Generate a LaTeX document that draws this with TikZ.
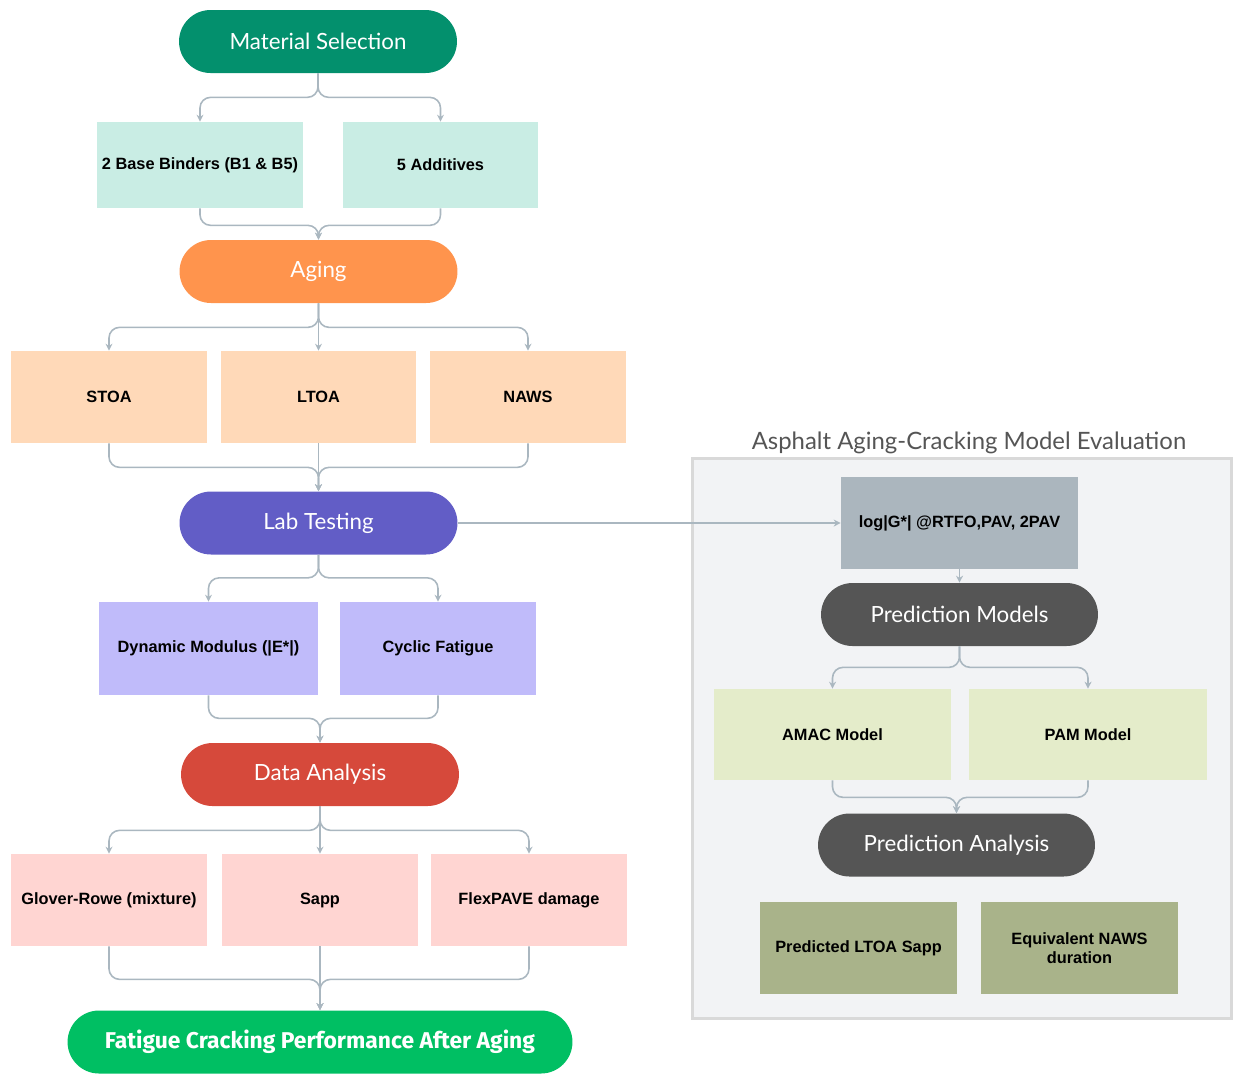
\documentclass[tikz,border=0pt]{standalone}
\usepackage{fontspec}
\setmainfont{Liberation Sans}
\newfontfamily\pillfont{Lato}
\newfontfamily\headfont{Fira Sans}
\usepackage{tikz}
\usetikzlibrary{arrows.meta,positioning,calc}

\definecolor{selgreen}{HTML}{03906D}
\definecolor{selbox}{HTML}{C9EDE4}
\definecolor{agingor}{HTML}{FF944D}
\definecolor{agingbox}{HTML}{FFD9B8}
\definecolor{labpurple}{HTML}{625DC6}
\definecolor{labbox}{HTML}{C0BBFA}
\definecolor{datared}{HTML}{D6493B}
\definecolor{databox}{HTML}{FFD5D2}
\definecolor{finalgreen}{HTML}{00BF63}
\definecolor{predgray}{HTML}{555555}
\definecolor{loggray}{HTML}{ABB6BE}
\definecolor{modelbox}{HTML}{E4ECCA}
\definecolor{resultbox}{HTML}{A9B38A}
\definecolor{panelfill}{HTML}{F2F3F5}
\definecolor{panelline}{HTML}{D9D9D9}
\definecolor{linkgray}{HTML}{AAB7C0}

\begin{document}
\begin{tikzpicture}[
    x=0.02cm, y=-0.02cm,
    % --- STYLES ---
    pill/.style={
        rectangle, rounded corners=0.63cm,
        minimum width=5.56cm, minimum height=1.26cm,
        text=white, align=center,
        font=\pillfont\fontsize{12.7}{15}\selectfont
    },
    box/.style={
        rectangle, minimum height=1.84cm,
        align=center, inner sep=2pt,
        font=\bfseries\fontsize{9.3}{11}\selectfont
    },
    panel/.style={
        rectangle, draw=panelline, fill=panelfill, line width=1.7pt,
        minimum width=10.8cm, minimum height=11.22cm
    },
    link/.style={
        -{Stealth[length=4pt,width=4pt]}, draw=linkgray,
        line width=0.9pt, rounded corners=6pt
    }
]

\useasboundingbox (0,0) rectangle (1236,1073);

% ===== 1. MAIN COLUMN =====
\node[pill, fill=selgreen] (sel) at (318,41.5) {Material Selection};

\node[box, fill=selbox, minimum width=4.14cm, minimum height=1.72cm] (binders) at (200,165) {2 Base Binders (B1 \& B5)};
\node[box, fill=selbox, minimum width=3.9cm, minimum height=1.72cm] (additives) at (440.5,165) {5 Additives};

\node[pill, fill=agingor] (aging) at (318.5,271.5) {Aging};

\node[box, fill=agingbox, minimum width=3.92cm] (stoa) at (109,397) {STOA};
\node[box, fill=agingbox, minimum width=3.9cm] (ltoa) at (318.5,397) {LTOA};
\node[box, fill=agingbox, minimum width=3.92cm] (naws) at (528,397) {NAWS};

\node[pill, fill=labpurple] (lab) at (318.5,523) {Lab Testing};

\node[box, fill=labbox, minimum width=4.38cm, minimum height=1.86cm] (dynmod) at (208.5,648.5) {Dynamic Modulus (|E*|)};
\node[box, fill=labbox, minimum width=3.92cm, minimum height=1.86cm] (fatigue) at (438,648.5) {Cyclic Fatigue};

\node[pill, fill=datared] (data) at (320,774.5) {Data Analysis};

\node[box, fill=databox, minimum width=3.92cm] (glover) at (109,900) {Glover-Rowe (mixture)};
\node[box, fill=databox, minimum width=3.92cm] (sapp) at (320,900) {Sapp};
\node[box, fill=databox, minimum width=3.92cm] (flex) at (529,900) {FlexPAVE damage};

\node[pill, fill=finalgreen, minimum width=10.1cm, font=\headfont\bfseries\fontsize{13}{15}\selectfont] (final) at (320,1042) {Fatigue Cracking Performance After Aging};

% ===== 2. MODEL PANEL =====
\node[panel] (panel) at (962,738.5) {};
\node[font=\pillfont\fontsize{13.6}{16}\selectfont, text=predgray] (ptitle) at (969,443) {Asphalt Aging-Cracking Model Evaluation};

\node[box, fill=loggray, minimum width=4.74cm] (logg) at (959.5,523) {log|G*| @RTFO,PAV, 2PAV};
\node[pill, fill=predgray, minimum width=5.54cm] (pmodels) at (959.5,614.5) {Prediction Models};

\node[box, fill=modelbox, minimum width=4.74cm, minimum height=1.82cm] (amac) at (832.5,734.5) {AMAC Model};
\node[box, fill=modelbox, minimum width=4.76cm, minimum height=1.82cm] (pam) at (1088,734.5) {PAM Model};

\node[pill, fill=predgray, minimum width=5.54cm] (panalysis) at (956.5,845) {Prediction Analysis};

\node[box, fill=resultbox, minimum width=3.94cm] (ltoasapp) at (858.5,948) {Predicted LTOA Sapp};
\node[box, fill=resultbox, minimum width=3.94cm] (equiv) at (1079.5,948) {Equivalent NAWS\\duration};

% ===== 3. CONNECTIONS =====
% material selection
\draw[link] (sel.south) -- ++(0,24) -| (binders.north);
\draw[link] (sel.south) -- ++(0,24) -| (additives.north);
\draw[link] (binders.south) -- ++(0,17) -| (aging.north);
\draw[link] (additives.south) -- ++(0,17) -| (aging.north);

% aging
\draw[link] (aging.south) -- ++(0,24) -| (stoa.north);
\draw[link] (aging.south) -- (ltoa.north);
\draw[link] (aging.south) -- ++(0,24) -| (naws.north);
\draw[link] (stoa.south) -- ++(0,24) -| (lab.north);
\draw[link] (ltoa.south) -- (lab.north);
\draw[link] (naws.south) -- ++(0,24) -| (lab.north);

% lab testing
\draw[link] (lab.south) -- ++(0,23) -| (dynmod.north);
\draw[link] (lab.south) -- ++(0,23) -| (fatigue.north);
\draw[link] (dynmod.south) -- ++(0,23) -| (data.north);
\draw[link] (fatigue.south) -- ++(0,23) -| (data.north);
\draw[link] (lab.east) -- (logg.west);

% data analysis
\draw[link] (data.south) -- ++(0,24) -| (glover.north);
\draw[link] (data.south) -- (sapp.north);
\draw[link] (data.south) -- ++(0,24) -| (flex.north);
\draw[link] (glover.south) -- ++(0,33) -| (final.north);
\draw[link] (sapp.south) -- (final.north);
\draw[link] (flex.south) -- ++(0,33) -| (final.north);

% model panel
\draw[link] (logg.south) -- (pmodels.north);
\draw[link] (pmodels.south) -- ++(0,21) -| (amac.north);
\draw[link] (pmodels.south) -- ++(0,21) -| (pam.north);
\draw[link] (amac.south) -- ++(0,17) -| (panalysis.north);
\draw[link] (pam.south) -- ++(0,17) -| (panalysis.north);

\end{tikzpicture}
\end{document}
